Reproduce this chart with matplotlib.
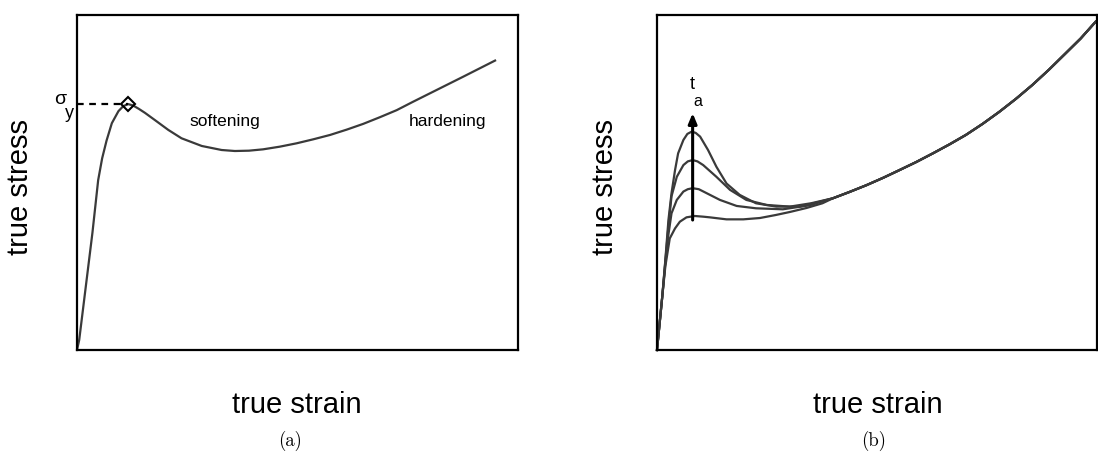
import matplotlib
matplotlib.use("Agg")
import matplotlib.pyplot as plt

# ---- data (normalised axes: 0..1) ----
# (a) single stress-strain curve
A_X = [0.0, 0.005, 0.020, 0.035, 0.048, 0.057, 0.067, 0.079, 0.094, 0.105, 0.116,
       0.127, 0.140, 0.154, 0.177, 0.207, 0.237, 0.283, 0.328, 0.358, 0.390, 0.422,
       0.460, 0.498, 0.536, 0.574, 0.612, 0.649, 0.687, 0.725, 0.762, 0.800,
       0.838, 0.876, 0.912, 0.948]
A_Y = [0.0, 0.030, 0.190, 0.350, 0.507, 0.572, 0.625, 0.677, 0.713, 0.728, 0.734,
       0.730, 0.720, 0.708, 0.686, 0.657, 0.632, 0.609, 0.597, 0.594, 0.595, 0.599,
       0.607, 0.617, 0.629, 0.642, 0.658, 0.675, 0.695, 0.716, 0.741, 0.766,
       0.791, 0.816, 0.840, 0.864]
YIELD_X, YIELD_Y = 0.116, 0.734

# (b) four curves with increasing ageing time, sharing start and hardening tail
B_START_X = [0.0, 0.006, 0.012]
B_START_Y = [0.0, 0.080, 0.160]
B_TAIL_X = [0.400, 0.438, 0.476, 0.514, 0.551, 0.589, 0.627, 0.665, 0.702,
            0.740, 0.778, 0.816, 0.853, 0.891, 0.929, 0.963, 0.997]
B_TAIL_Y = [0.453, 0.472, 0.492, 0.514, 0.537, 0.561, 0.587, 0.614, 0.642,
            0.675, 0.711, 0.750, 0.791, 0.837, 0.886, 0.930, 0.980]

B1_X = [0.019, 0.026, 0.033, 0.041, 0.048, 0.060, 0.069, 0.079, 0.088, 0.098,
        0.116, 0.135, 0.158, 0.188, 0.225, 0.271, 0.325, 0.362]
B1_Y = [0.270, 0.388, 0.468, 0.537, 0.587, 0.627, 0.645, 0.652, 0.648, 0.637,
        0.597, 0.547, 0.497, 0.463, 0.438, 0.428, 0.428, 0.440]
B2_X = [0.019, 0.026, 0.033, 0.045, 0.060, 0.070, 0.081, 0.092, 0.105, 0.135,
        0.166, 0.203, 0.249, 0.302, 0.350]
B2_Y = [0.265, 0.370, 0.459, 0.517, 0.552, 0.563, 0.567, 0.563, 0.552, 0.517,
        0.478, 0.448, 0.433, 0.428, 0.438]
B3_X = [0.019, 0.026, 0.033, 0.045, 0.060, 0.070, 0.081, 0.095, 0.113, 0.143,
        0.181, 0.225, 0.286, 0.347]
B3_Y = [0.260, 0.345, 0.408, 0.448, 0.473, 0.480, 0.483, 0.480, 0.468, 0.448,
        0.430, 0.423, 0.420, 0.432]
B4_X = [0.019, 0.029, 0.041, 0.052, 0.067, 0.086, 0.105, 0.120, 0.158, 0.196,
        0.234, 0.270, 0.302, 0.340, 0.376]
B4_Y = [0.250, 0.333, 0.363, 0.383, 0.396, 0.400, 0.398, 0.396, 0.390, 0.390,
        0.394, 0.403, 0.412, 0.424, 0.438]
B_CURVES = [(B1_X, B1_Y), (B2_X, B2_Y), (B3_X, B3_Y), (B4_X, B4_Y)]

ARROW_X, ARROW_Y0, ARROW_Y1 = 0.081, 0.388, 0.707

LINE_C = "#3a3a3a"
SANS = ["Liberation Sans", "DejaVu Sans"]

fig = plt.figure(figsize=(10.98, 4.58), dpi=100)
W, H = 1098, 458


def add_panel(left_px, width_px):
    ax = fig.add_axes([left_px / W, (H - 350) / H, width_px / W, 335 / H])
    ax.set_xlim(0, 1)
    ax.set_ylim(0, 1)
    ax.set_xticks([])
    ax.set_yticks([])
    for sp in ax.spines.values():
        sp.set_linewidth(1.6)
        sp.set_color("black")
    return ax


# ---- panel (a) ----
ax1 = add_panel(77, 441)
ax1.plot(A_X, A_Y, color=LINE_C, lw=1.6, solid_joinstyle="round")
ax1.plot([0, YIELD_X], [YIELD_Y, YIELD_Y], color="black", ls=(0, (3, 2.5)), lw=1.6)
ax1.plot([YIELD_X], [YIELD_Y], marker="D", ms=7, mfc="none", mec="black", mew=1.5)
ax1.text(0.336, 0.683, "softening", fontsize=12.5, family=SANS, ha="center", va="center")
ax1.text(0.841, 0.683, "hardening", fontsize=12.5, family=SANS, ha="center", va="center")
fig.text(60 / W, 1 - 99 / H, "σ", fontsize=14, family=SANS, ha="center", va="center")
fig.text(69 / W, 1 - 114 / H, "y", fontsize=13, family=SANS, ha="center", va="center")

# ---- panel (b) ----
ax2 = add_panel(657, 440)
for cx, cy in B_CURVES:
    ax2.plot(B_START_X + cx + B_TAIL_X, B_START_Y + cy + B_TAIL_Y,
             color=LINE_C, lw=1.6, solid_joinstyle="round", clip_on=False)
ax2.annotate("", xy=(ARROW_X, ARROW_Y1), xytext=(ARROW_X, ARROW_Y0),
             arrowprops=dict(arrowstyle="-|>,head_length=0.6,head_width=0.25",
                             color="black", lw=2.2, shrinkA=0, shrinkB=0))
fig.text(692 / W, 1 - 85 / H, "t", fontsize=13, family=SANS, ha="center", va="center")
fig.text(698 / W, 1 - 101 / H, "a", fontsize=11.5, family=SANS, ha="center", va="center")

# ---- labels ----
for ys_x, xs_x in [(20, 297), (605, 878)]:
    fig.text(ys_x / W, 1 - 187 / H, "true stress", rotation=90, fontsize=21,
             family=SANS, ha="center", va="center")
    fig.text(xs_x / W, 1 - 405 / H, "true strain", fontsize=21,
             family=SANS, ha="center", va="center")
fig.text(290 / W, 1 - 441 / H, "(a)", fontsize=13.5, family="cmr10", ha="center", va="center")
fig.text(874 / W, 1 - 441 / H, "(b)", fontsize=13.5, family="cmr10", ha="center", va="center")

fig.savefig("out.png", dpi=100)
